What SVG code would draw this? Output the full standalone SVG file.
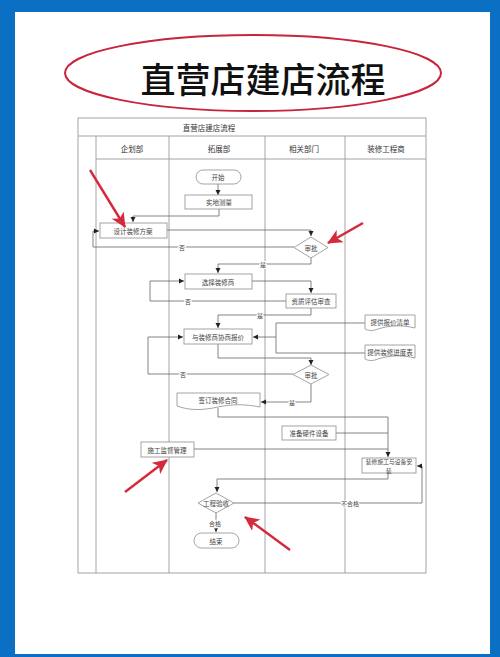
<svg xmlns="http://www.w3.org/2000/svg" width="500" height="657" viewBox="0 0 500 657">
<defs>
<marker id="ah" markerWidth="6" markerHeight="6" refX="5" refY="3" orient="auto" markerUnits="userSpaceOnUse"><path d="M0,0.5 L5,3 L0,5.5 Z" fill="#222"/></marker>
<marker id="rh" markerWidth="16" markerHeight="14" refX="14" refY="7" orient="auto" markerUnits="userSpaceOnUse"><path d="M0,0 L15,7 L0,14 L4,7 Z" fill="#d42a3c"/></marker>
<style>
.grid{stroke:#9a9a9a;stroke-width:0.9;fill:none}
.node{fill:#fff;stroke:#9a9a9a;stroke-width:0.9}
.t{font-family:"Noto Sans CJK SC","Liberation Serif",serif;font-size:6.5px;fill:#444;text-anchor:middle;dominant-baseline:central}
.s{font-size:5.8px}
.h{font-family:"Noto Sans CJK SC","Liberation Serif",serif;font-size:7.5px;fill:#333;text-anchor:middle;dominant-baseline:central}
.lbl{font-family:"Noto Sans CJK SC","Liberation Serif",serif;font-size:6px;fill:#444;text-anchor:middle;dominant-baseline:central;paint-order:stroke;stroke:#fff;stroke-width:2px}
.c{fill:none;stroke:#666;stroke-width:0.8}
.red{fill:none;stroke:#d42a3c;stroke-width:2.4}
</style>
</defs>
<rect x="0" y="0" width="500" height="657" fill="#0b6fc3"/>
<rect x="15" y="12" width="475" height="642" fill="#fff"/>
<ellipse cx="253" cy="73" rx="188" ry="38" fill="none" stroke="#c8243c" stroke-width="2"/>
<text x="263" y="77" font-family="Noto Sans CJK SC,serif" font-size="35" font-weight="500" fill="#111" text-anchor="middle" dominant-baseline="central">直营店建店流程</text>

<g id="table">
<rect class="grid" x="78" y="118" width="348" height="455"/>
<line class="grid" x1="78" y1="136" x2="426" y2="136"/>
<line class="grid" x1="96" y1="159" x2="426" y2="159"/>
<line class="grid" x1="96" y1="136" x2="96" y2="573"/>
<line class="grid" x1="169" y1="136" x2="169" y2="573"/>
<line class="grid" x1="265" y1="136" x2="265" y2="573"/>
<line class="grid" x1="345" y1="136" x2="345" y2="573"/>
<text class="h" x="209" y="127">直营店建店流程</text>
<text class="h" x="132" y="148">企划部</text>
<text class="h" x="219" y="148">拓展部</text>
<text class="h" x="304" y="148">相关部门</text>
<text class="h" x="386" y="148">装修工程商</text>
</g>

<g id="connectors">
<path class="c" d="M218,184 V195" marker-end="url(#ah)"/>
<path class="c" d="M219,209 V216 H133 V222" marker-end="url(#ah)"/>
<path class="c" d="M167,230 H311 V236" marker-end="url(#ah)"/>
<path class="c" d="M294,247 H93 V231 H99" marker-end="url(#ah)"/>
<path class="c" d="M311,258 V264 H218 V273" marker-end="url(#ah)"/>
<path class="c" d="M252,281 H311 V293" marker-end="url(#ah)"/>
<path class="c" d="M286,301 H150 V281 H184" marker-end="url(#ah)"/>
<path class="c" d="M311,308 V315 H218 V328" marker-end="url(#ah)"/>
<path class="c" d="M365,323 H276 V353 H365"/>
<path class="c" d="M276,337 H253" marker-end="url(#ah)"/>
<path class="c" d="M218,344 V358 H311 V365" marker-end="url(#ah)"/>
<path class="c" d="M293,374 H148 V337 H183" marker-end="url(#ah)"/>
<path class="c" d="M311,384 V402 H261" marker-end="url(#ah)"/>
<path class="c" d="M218,408 V417 H388 V457" marker-end="url(#ah)"/>
<path class="c" d="M336,433 H388"/>
<path class="c" d="M194,449 H388"/>
<path class="c" d="M388,473 V479 H217 V492" marker-end="url(#ah)"/>
<path class="c" d="M233,503 H422 V466 H417" marker-end="url(#ah)"/>
<path class="c" d="M216,513 V532" marker-end="url(#ah)"/>
<text class="lbl" x="182" y="247">否</text>
<text class="lbl" x="263" y="264">是</text>
<text class="lbl" x="188" y="301">否</text>
<text class="lbl" x="260" y="315">是</text>
<text class="lbl" x="183" y="374">否</text>
<text class="lbl" x="292" y="402">是</text>
<text class="lbl" x="350" y="503">不合格</text>
<text class="lbl" x="215" y="523">合格</text>
</g>

<g id="start"><rect class="node" x="196" y="170" width="45" height="14" rx="7"/><text class="t" x="218" y="177">开始</text></g>
<g id="survey"><rect class="node" x="185" y="195" width="67" height="14"/><text class="t" x="219" y="202">实地测量</text></g>
<g id="design"><rect class="node" x="100" y="223" width="67" height="15"/><text class="t" x="133" y="230.5">设计装修方案</text></g>
<g id="approve1"><path class="node" d="M311,237 L328,247.5 L311,258 L294,247.5 Z"/><text class="t" x="311" y="247.5">审批</text></g>
<g id="choose"><rect class="node" x="185" y="274" width="67" height="15"/><text class="t" x="218" y="281.5">选择装修商</text></g>
<g id="qualify"><rect class="node" x="286" y="294" width="50" height="14"/><text class="t" x="311" y="301">资质评估审查</text></g>
<g id="negotiate"><rect class="node" x="184" y="329" width="68" height="15"/><text class="t" x="218" y="336.5">与装修商协商报价</text></g>
<g id="quote"><path class="node" d="M365,315 H415 V328 C403,325 390,325 378,329 C373,331 369,331 365,329 Z"/><text class="t" x="390" y="321.5">提供报价清单</text></g>
<g id="schedule"><path class="node" d="M365,345 H415 V358 C403,355 390,355 378,359 C373,361 369,361 365,359 Z"/><text class="t" x="390" y="351.5">提供装修进度表</text></g>
<g id="approve2"><path class="node" d="M311,365 L329,374.5 L311,384 L293,374.5 Z"/><text class="t" x="311" y="374.5">审批</text></g>
<g id="contract"><path class="node" d="M177,393 H260 V407 C245,404 232,404 218,407 C200,411 188,410 177,406 Z"/><text class="t" x="218" y="400">签订装修合同</text></g>
<g id="hardware"><rect class="node" x="282" y="426" width="54" height="14"/><text class="t" x="309" y="433">准备硬件设备</text></g>
<g id="supervise"><rect class="node" x="141" y="442" width="53" height="15"/><text class="t" x="167" y="449.5">施工监督管理</text></g>
<g id="install"><rect class="node" x="362" y="458" width="54" height="15"/><text class="t s" x="389" y="461.5">装修施工与设备安</text><text class="t s" x="389" y="470">装</text></g>
<g id="inspect"><path class="node" d="M216,493 L234,503 L216,513 L198,503 Z"/><text class="t" x="216" y="503">工程验收</text></g>
<g id="end"><rect class="node" x="194" y="533" width="45" height="15" rx="7.5"/><text class="t" x="216" y="540.5">结束</text></g>

<g id="annotations">
<path class="red" d="M90,170 L125,227" marker-end="url(#rh)"/>
<path class="red" d="M363,223 L328,243" marker-end="url(#rh)"/>
<path class="red" d="M125,492 L167,460" marker-end="url(#rh)"/>
<path class="red" d="M290,550 L245,517" marker-end="url(#rh)"/>
</g>
</svg>
